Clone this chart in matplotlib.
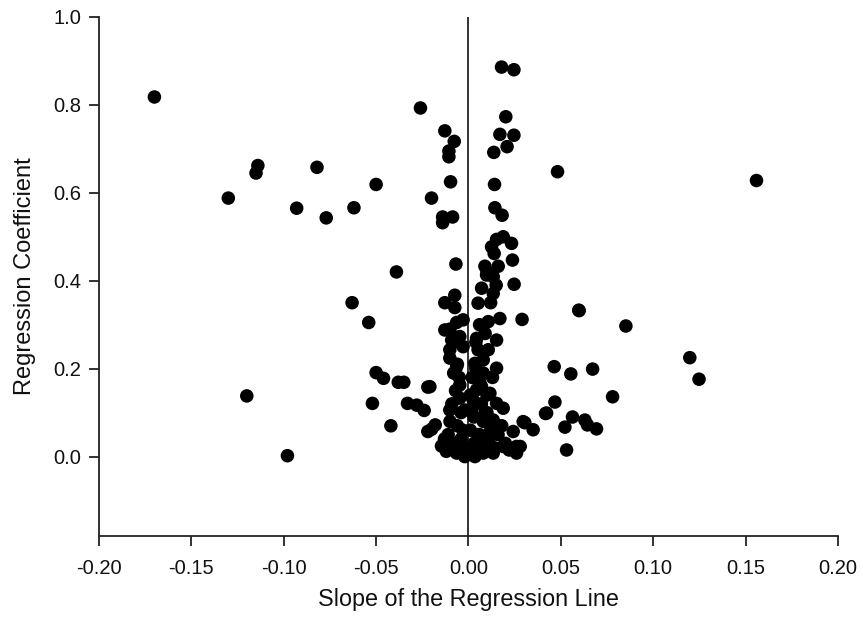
import matplotlib
matplotlib.use("Agg")
import matplotlib.pyplot as plt
import numpy as np

plt.rcParams['font.family'] = ['Liberation Sans', 'DejaVu Sans']

# Slope of the regression line (x) and regression coefficient (y)
slope = [
    -0.170, -0.130, -0.114, -0.115, -0.093, -0.082, -0.077, -0.062, -0.050, -0.026,
    -0.120, -0.098, -0.063, -0.054, -0.039, -0.050, -0.046, -0.038, -0.035, -0.022,
    -0.052, -0.033, -0.028, -0.024, -0.042, -0.022, -0.018, -0.020,
    0.0179, 0.0246, 0.0202, -0.0128, -0.0077, 0.017, 0.0246, 0.0209, 0.0137, -0.0106,
    -0.0106, 0.0482, -0.0097, 0.0141, -0.020, 0.0143, 0.0182, -0.014, -0.0086, -0.014,
    0.0188, 0.0152, 0.0233, 0.0125, 0.0139, 0.0238, -0.0068, 0.0089, 0.0161, 0.0098,
    0.0134, 0.0247, 0.0071, 0.0134, -0.0074, -0.0128, -0.0074, 0.0052, 0.0597, 0.029,
    0.017, 0.0107, -0.0029, -0.0064, -0.0128, 0.0044, -0.0091, -0.0047, 0.0152, -0.0101,
    -0.0029, 0.0052, 0.0107, -0.0101, -0.0064, 0.0035, 0.0152, 0.008, -0.0209, -0.0047,
    0.0044, 0.0116, 0.0152, 0.0188, -0.0101, -0.0047, 0.0025, -0.002, 0.0089, 0.0134,
    0.0296, 0.0242, 0.035, 0.0423, 0.0468, -0.0146, -0.0083, -0.0064, -0.002, 0.0035,
    0.008, 0.0134, 0.0188, 0.026, 0.026, 0.0464, 0.0554, 0.0672, 0.078, 0.1198,
    0.1248, 0.0417, 0.0563, 0.063, 0.0644, 0.0693, 0.0522, 0.0531, 0.0305, 0.028,
    0.0599, 0.0852, 0.1559,
    -0.008, -0.005, 0.002, 0.006, -0.007, 0.001, 0.007, -0.009, -0.004, 0.003,
    0.008, -0.010, -0.006, 0.001, 0.006, -0.011, -0.004, 0.003, 0.009, -0.008,
    -0.002, 0.005, 0.011, 0.012, 0.010, 0.013, 0.008, 0.004, 0.009, 0.006,
    0.012, 0.015, 0.010, -0.006, -0.008, -0.010, 0.016, 0.020, 0.022, -0.012,
    -0.001, 0.004, 0.007, -0.003, 0.014, 0.018, -0.013, 0.002, 0.010, 0.005,
]
coef = [
    0.818, 0.588, 0.662, 0.645, 0.565, 0.658, 0.543, 0.566, 0.619, 0.793,
    0.138, 0.002, 0.350, 0.305, 0.420, 0.191, 0.178, 0.169, 0.169, 0.158,
    0.121, 0.121, 0.117, 0.105, 0.070, 0.057, 0.072, 0.062,
    0.886, 0.880, 0.773, 0.741, 0.717, 0.733, 0.731, 0.705, 0.692, 0.695,
    0.682, 0.648, 0.625, 0.619, 0.588, 0.566, 0.549, 0.545, 0.545, 0.532,
    0.500, 0.494, 0.485, 0.477, 0.462, 0.447, 0.438, 0.433, 0.433, 0.413,
    0.409, 0.392, 0.383, 0.371, 0.367, 0.350, 0.339, 0.349, 0.333, 0.312,
    0.314, 0.307, 0.311, 0.305, 0.288, 0.269, 0.265, 0.273, 0.265, 0.243,
    0.250, 0.243, 0.243, 0.224, 0.2045, 0.212, 0.201, 0.190, 0.159, 0.163,
    0.152, 0.144, 0.121, 0.110, 0.106, 0.133, 0.129, 0.106, 0.099, 0.083,
    0.0795, 0.057, 0.061, 0.099, 0.124, 0.024, 0.023, 0.008, 0.000, 0.000,
    0.008, 0.008, 0.023, 0.008, 0.023, 0.2045, 0.188, 0.199, 0.136, 0.225,
    0.176, 0.098, 0.090, 0.083, 0.072, 0.063, 0.067, 0.015, 0.077, 0.023,
    0.332, 0.297, 0.628,
    0.190, 0.180, 0.180, 0.170, 0.150, 0.140, 0.120, 0.120, 0.100, 0.090,
    0.080, 0.080, 0.070, 0.060, 0.050, 0.050, 0.040, 0.030, 0.030, 0.030,
    0.020, 0.015, 0.040, 0.060, 0.100, 0.180, 0.220, 0.260, 0.280, 0.300,
    0.350, 0.390, 0.420, 0.210, 0.260, 0.290, 0.050, 0.030, 0.015, 0.012,
    0.008, 0.200, 0.160, 0.060, 0.020, 0.070, 0.040, 0.110, 0.140, 0.050,
]
xtick_vals = [-0.20, -0.15, -0.10, -0.05, 0.00, 0.05, 0.10, 0.15, 0.20]
xtick_labels = ["-0.20", "-0.15", "-0.10", "-0.05", "0.00", "0.05", "0.10", "0.15", "0.20"]
ytick_vals = [0.0, 0.2, 0.4, 0.6, 0.8, 1.0]
ytick_labels = ["0.0", "0.2", "0.4", "0.6", "0.8", "1.0"]

fig = plt.figure(figsize=(8.63, 6.24), dpi=100)
ax = fig.add_axes([0.1147, 0.1415, 0.8563, 0.8313])

ax.scatter(slope, coef, s=95, color='black', edgecolors='none', zorder=3)
ax.axvline(0, color='#222222', linewidth=1.3, zorder=2)

ax.set_xlim(-0.2, 0.2)
ax.set_ylim(-0.18, 1.0)
ax.set_xticks(xtick_vals)
ax.set_xticklabels(xtick_labels)
ax.set_yticks(ytick_vals)
ax.set_yticklabels(ytick_labels)

for s in ['top', 'right']:
    ax.spines[s].set_visible(False)
for s in ['left', 'bottom']:
    ax.spines[s].set_linewidth(1.3)
    ax.spines[s].set_color('#222222')
ax.tick_params(direction='out', length=7, width=1.3, labelsize=14.5, colors='#222222')
ax.tick_params(axis='x', pad=10)
ax.tick_params(axis='y', pad=6)
ax.tick_params(labelcolor='#111111')

ax.set_xlabel("Slope of the Regression Line", fontsize=16.8, color='#111111', labelpad=7)
ax.set_ylabel("Regression Coefficient", fontsize=17, color='#111111', labelpad=12)

fig.savefig("out.png", dpi=100)
